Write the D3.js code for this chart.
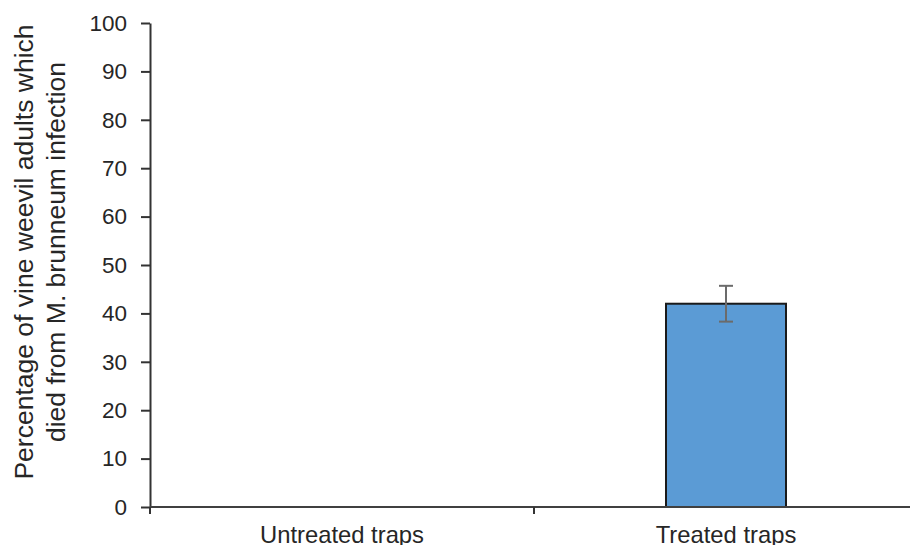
<!DOCTYPE html>
<html>
<head>
<meta charset="utf-8">
<script src="https://cdn.jsdelivr.net/npm/d3@7"></script>
<style>
  html, body { margin: 0; padding: 0; background: #fff; }
  svg { display: block; font-family: "Liberation Sans", Arial, sans-serif; }
</style>
</head>
<body>
<svg id="chart" width="910" height="545"></svg>
<script>
// Trap treatments and the mean percentage of adults killed by infection
const categories = ["Untreated traps", "Treated traps"];
const meanValues = [0, 42];
const errorValues = [0, 3.7];
const yTicks = [0, 10, 20, 30, 40, 50, 60, 70, 80, 90, 100];
const yTitleLines = ["Percentage of vine weevil adults which", "died from M. brunneum infection"];

const svg = d3.select("#chart");
const W = 910, H = 545;
svg.append("rect").attr("width", W).attr("height", H).attr("fill", "#fff");

const plotLeft = 150, plotRight = 918, plotTop = 23, plotBottom = 507;

const x = d3.scaleBand()
  .domain(categories)
  .range([plotLeft, plotRight])
  .paddingInner(0.6875)
  .paddingOuter(0.34375);

const y = d3.scaleLinear().domain([0, 100]).range([plotBottom, plotTop]);

// Bars
const data = categories.map((c, i) => ({ c, v: meanValues[i], e: errorValues[i] }));
svg.append("g").selectAll("rect")
  .data(data.filter(d => d.v > 0))
  .join("rect")
  .attr("x", d => x(d.c))
  .attr("y", d => y(d.v))
  .attr("width", x.bandwidth())
  .attr("height", d => y(0) - y(d.v))
  .attr("fill", "#5B9BD5")
  .attr("stroke", "#1a1a1a")
  .attr("stroke-width", 2);

// Error bars
const eb = svg.append("g").attr("stroke", "#6b6b6b").attr("stroke-width", 2);
data.filter(d => d.e > 0).forEach(d => {
  const cx = x(d.c) + x.bandwidth() / 2;
  eb.append("line").attr("x1", cx).attr("x2", cx).attr("y1", y(d.v + d.e)).attr("y2", y(d.v - d.e));
  eb.append("line").attr("x1", cx - 7).attr("x2", cx + 7).attr("y1", y(d.v + d.e)).attr("y2", y(d.v + d.e));
  eb.append("line").attr("x1", cx - 7).attr("x2", cx + 7).attr("y1", y(d.v - d.e)).attr("y2", y(d.v - d.e));
});

// Y axis
const yAxis = svg.append("g")
  .attr("transform", `translate(${plotLeft},0)`)
  .call(d3.axisLeft(y).tickValues(yTicks).tickSizeInner(9).tickSizeOuter(0).tickPadding(14));
yAxis.select(".domain").attr("stroke", "#333").attr("stroke-width", 2);
yAxis.selectAll(".tick line").attr("stroke", "#333").attr("stroke-width", 2);
yAxis.selectAll(".tick text")
  .attr("font-size", 22.5)
  .attr("font-family", "Liberation Sans, Arial, sans-serif")
  .attr("fill", "#262626");

// X axis: line with tick marks at category boundaries
const xg = svg.append("g");
xg.append("line")
  .attr("x1", plotLeft).attr("x2", plotRight)
  .attr("y1", y(0)).attr("y2", y(0))
  .attr("stroke", "#404040").attr("stroke-width", 2);
const boundaries = d3.range(categories.length + 1).map(i => x.range()[0] + i * x.step());
xg.selectAll("line.b")
  .data(boundaries)
  .join("line")
  .attr("class", "b")
  .attr("x1", d => d).attr("x2", d => d)
  .attr("y1", y(0)).attr("y2", y(0) + 7)
  .attr("stroke", "#333").attr("stroke-width", 2);
xg.selectAll("text")
  .data(categories)
  .join("text")
  .attr("x", d => x(d) + x.bandwidth() / 2)
  .attr("y", 543)
  .attr("text-anchor", "middle")
  .attr("font-size", 23.8)
  .attr("fill", "#262626")
  .text(d => d);

// Y axis title
const yt = svg.append("text")
  .attr("transform", `translate(0,252) rotate(-90)`)
  .attr("text-anchor", "middle")
  .attr("font-size", 26.5)
  .attr("fill", "#262626");
yt.selectAll("tspan")
  .data(yTitleLines)
  .join("tspan")
  .attr("x", 0)
  .attr("y", (d, i) => 33 + i * 32)
  .text(d => d);
</script>
</body>
</html>
